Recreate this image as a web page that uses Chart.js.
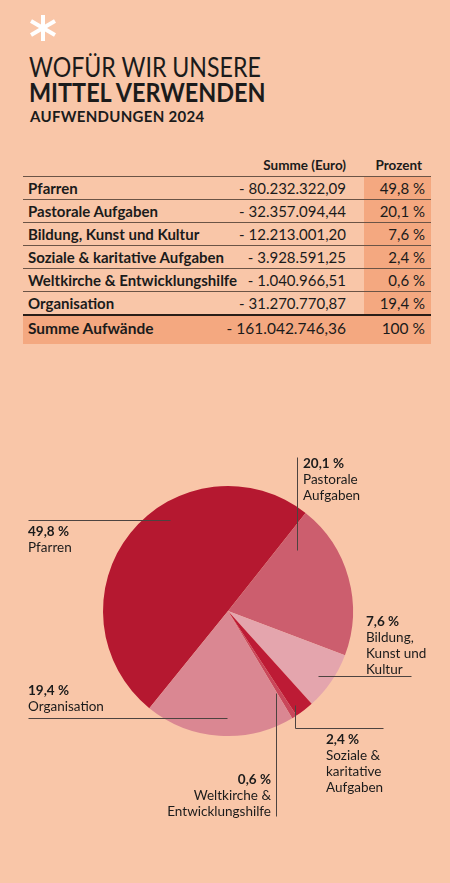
<!DOCTYPE html>
<html lang="de">
<head>
<meta charset="utf-8">
<script src="https://cdn.jsdelivr.net/npm/chart.js@4/dist/chart.umd.min.js"></script>
<style>
  html, body { margin: 0; padding: 0; }
  body {
    width: 450px; height: 883px; position: relative; overflow: hidden;
    background: #f9c6a8; font-family: Lato, "Open Sans", sans-serif; color: #1b1b1b;
  }
  #star { position: absolute; left: 29px; top: 14px; }
  .t1 { position: absolute; left: 29px; top: 51px; font-size: 26px; font-weight: 400; transform: scaleX(0.89); transform-origin: left top; white-space: nowrap; }
  .t2 { position: absolute; left: 29px; top: 76px; font-size: 26px; font-weight: 700; transform: scaleX(0.9); transform-origin: left top; white-space: nowrap; }
  .t3 { position: absolute; left: 30px; top: 107px; font-size: 15px; font-weight: 700; letter-spacing: 0.3px; }
  #tbl { position: absolute; left: 23px; top: 157px; width: 408px; }
  .row { position: relative; height: 22px; border-bottom: 1px solid #6b5446; }
  .row div { position: absolute; top: 2px; font-size: 15px; }
  .head { height: 19px; border-bottom: 1px solid #6b5446; position: relative; }
  .head div { position: absolute; top: 0; font-size: 13.5px; font-weight: 700; }
  .name { left: 5px; font-weight: 700; }
  .amt { right: 85px; }
  .pct { right: 6px; }
  .shade { position: absolute; right: 0; top: 20px; width: 67px; height: 138px; background: #f4a880; }
  .total { position: relative; height: 28px; background: #f4a880; border-top: 2px solid #2a1e18; margin-top: -1px; }
  .total div { position: absolute; top: 3px; font-size: 15.5px; }
  #chartBox { position: absolute; left: 0; top: 430px; width: 450px; height: 400px; }
</style>
</head>
<body>
<svg id="star" width="30" height="28" viewBox="0 0 30 28">
  <g stroke="#ffffff" stroke-width="4" stroke-linecap="butt">
    <line x1="14" y1="1" x2="14" y2="27"/>
    <line x1="2" y1="7" x2="26" y2="21"/>
    <line x1="2" y1="21" x2="26" y2="7"/>
  </g>
</svg>
<div class="t1">WOFÜR WIR UNSERE</div>
<div class="t2">MITTEL VERWENDEN</div>
<div class="t3">AUFWENDUNGEN 2024</div>

<div id="tbl"></div>

<div id="chartBox"><canvas id="pie"></canvas></div>

<script>
// table / pie data
const categories = ["Pfarren", "Pastorale Aufgaben", "Bildung, Kunst und Kultur",
  "Soziale & karitative Aufgaben", "Weltkirche & Entwicklungshilfe", "Organisation"];
const amounts = [80232322.09, 32357094.44, 12213001.20, 3928591.25, 1040966.51, 31270770.87];
const amountLabels = ["- 80.232.322,09", "- 32.357.094,44", "- 12.213.001,20",
  "- 3.928.591,25", "- 1.040.966,51", "- 31.270.770,87"];
const percentLabels = ["49,8 %", "20,1 %", "7,6 %", "2,4 %", "0,6 %", "19,4 %"];
const totalLabel = "Summe Aufwände";
const totalAmount = "- 161.042.746,36";
const totalPercent = "100 %";
const pieNames = [["Pfarren"], ["Pastorale", "Aufgaben"], ["Bildung,", "Kunst und", "Kultur"],
  ["Soziale &", "karitative", "Aufgaben"], ["Weltkirche &", "Entwicklungshilfe"], ["Organisation"]];

const sliceColors = ['#b51830', '#cc5e6e', '#e4a5ad', '#bd1b35', '#c9475b', '#da8792'];

// build the table
let tbl = document.getElementById("tbl");
let html = '<div class="shade"></div><div class="head"><div style="right:85px">Summe (Euro)</div><div style="right:9px">Prozent</div></div>';
categories.forEach((c, i) => {
  html += '<div class="row"><div class="name">' + c.replace('&', '&amp;') + '</div><div class="amt">' +
    amountLabels[i] + '</div><div class="pct">' + percentLabels[i] + '</div></div>';
});
html += '<div class="total"><div class="name">' + totalLabel + '</div><div class="amt">' + totalAmount +
  '</div><div class="pct">' + totalPercent + '</div></div>';
tbl.innerHTML = html;

// label placement relative to the pie centre (px): text x, first baseline, align, leader polyline
const callouts = [
  { x: -200, y: -75, align: 'left', line: [[-200, -91], [-58, -91]] },
  { x: 75, y: -143, align: 'left', line: [[69, -154], [69, -61]] },
  { x: 138, y: 15, align: 'left', line: [[90, 65], [183, 65]] },
  { x: 98, y: 133, align: 'left', line: [[67, 94], [67, 117], [155, 117]] },
  { x: 43, y: 173, align: 'right', line: [[48, 82], [48, 205]] },
  { x: -200, y: 84, align: 'left', line: [[-200, 107], [-1, 107]] }
];

const calloutPlugin = {
  id: 'callouts',
  afterDraw(chart) {
    const ctx = chart.ctx;
    const arc = chart.getDatasetMeta(0).data[0];
    const cx = arc.x, cy = arc.y;
    ctx.save();
    ctx.strokeStyle = '#4d4340';
    ctx.lineWidth = 1;
    callouts.forEach((c, i) => {
      ctx.beginPath();
      c.line.forEach((p, k) => {
        const px = Math.round(cx + p[0]) + 0.5, py = Math.round(cy + p[1]) + 0.5;
        if (k === 0) ctx.moveTo(px, py); else ctx.lineTo(px, py);
      });
      ctx.stroke();
      ctx.fillStyle = '#1b1b1b';
      ctx.textAlign = c.align;
      ctx.textBaseline = 'alphabetic';
      ctx.font = '700 13.5px Lato, "Open Sans", sans-serif';
      ctx.fillText(percentLabels[i], cx + c.x, cy + c.y);
      ctx.font = '400 13.5px Lato, "Open Sans", sans-serif';
      pieNames[i].forEach((t, k) => ctx.fillText(t, cx + c.x, cy + c.y + 16 * (k + 1)));
    });
    ctx.restore();
  }
};

new Chart(document.getElementById("pie"), {
  type: 'pie',
  data: {
    labels: categories,
    datasets: [{ data: amounts, backgroundColor: sliceColors, borderWidth: 0 }]
  },
  options: {
    responsive: true,
    maintainAspectRatio: false,
    animation: false,
    rotation: 219,
    layout: { padding: { left: 103, right: 97, top: 56, bottom: 94 } },
    plugins: { legend: { display: false }, tooltip: { enabled: false } }
  },
  plugins: [calloutPlugin]
});
</script>
</body>
</html>
